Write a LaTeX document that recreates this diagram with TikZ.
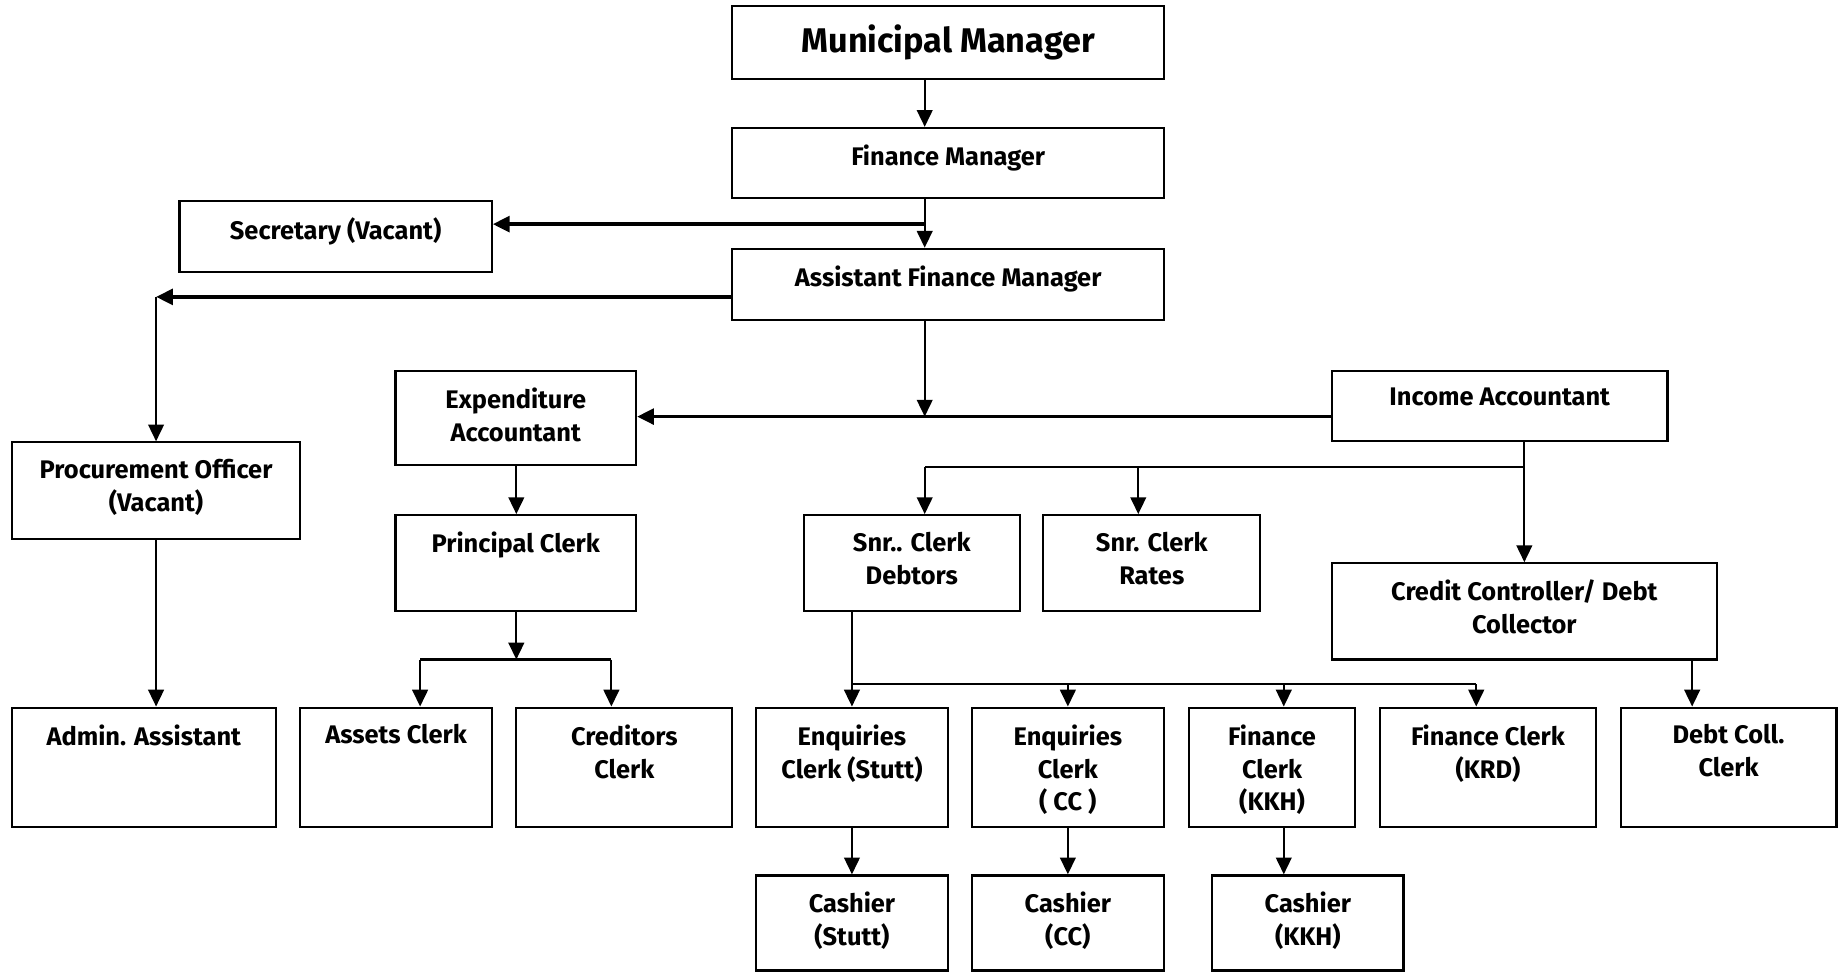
\documentclass[tikz,border=0pt]{standalone}
\usepackage{fontspec}
\setmainfont{Fira Sans}
\usetikzlibrary{arrows.meta,fit}

\newcommand\lbfont{\fontsize{13}{16.8}\selectfont\bfseries}
\newcommand\topfont{\fontsize{17.5}{20}\selectfont\bfseries}

% one position box: name, x1, y1, x2, y2, text (top aligned)
\newcommand\orgnode[6]{%
  \node[box, fit={(#2,#3)(#4,#5)}] (#1) {};
  \node[lbl] (#1-t) at ([yshift=-9pt]#1.north) {#6};
}

\tikzset{
  box/.style={draw, line width=1.1pt, inner sep=0pt},
  lbl/.style={font=\lbfont, align=center, inner sep=0pt, anchor=north},
  ln/.style={line width=1.1pt},
  thk/.style={line width=1.9pt},
  arr/.style={line width=1.1pt, -{Triangle[length=8.6pt,width=8pt]}},
}

\begin{document}
\begin{tikzpicture}[x=0.6pt,y=-0.6pt]
  \fill[white] (0,0) rectangle (1568,828);
  \useasboundingbox (0,0) rectangle (1568,828);

  % top of the hierarchy
  \node[box, fit={(624,5)(992,67)}] (mm) {};
  \node[font=\topfont, inner sep=0pt] (mm-t) at (mm.center) {Municipal Manager};
  \orgnode{fm}{624}{109}{992}{169}{Finance Manager}
  \orgnode{sec}{153}{171}{419}{232}{Secretary (Vacant)}
  \orgnode{afm}{624}{212}{992}{273}{Assistant Finance Manager}

  % accountants
  \orgnode{exp}{337}{316}{542}{396}{Expenditure\\Accountant}
  \orgnode{ia}{1135}{316}{1421}{376}{Income Accountant}
  \orgnode{proc}{10}{377}{256}{459}{Procurement Officer\\(Vacant)}

  % second level
  \orgnode{pc}{337}{439}{542}{521}{Principal Clerk}
  \orgnode{sd}{685}{439}{869}{521}{Snr.. Clerk\\Debtors}
  \orgnode{sr}{889}{439}{1074}{521}{Snr. Clerk\\Rates}
  \orgnode{cc}{1135}{480}{1463}{562}{Credit Controller/ Debt\\Collector}

  % clerks
  \orgnode{adm}{10}{603}{235}{705}{Admin. Assistant}
  \orgnode{ac}{256}{603}{419}{705}{Assets Clerk}
  \orgnode{crc}{440}{603}{624}{705}{Creditors\\Clerk}
  \orgnode{es}{644}{603}{808}{705}{Enquiries\\Clerk (Stutt)}
  \orgnode{ecc}{828}{603}{992}{705}{Enquiries\\Clerk\\( CC )}
  \orgnode{fk}{1013}{603}{1155}{705}{Finance\\Clerk\\(KKH)}
  \orgnode{fkrd}{1176}{603}{1360}{705}{Finance Clerk\\(KRD)}
  \orgnode{dcc}{1381}{603}{1565}{705}{Debt Coll.\\Clerk}

  % cashiers
  \orgnode{cs}{644}{746}{808}{827}{Cashier\\(Stutt)}
  \orgnode{ccc}{828}{746}{992}{827}{Cashier\\(CC)}
  \orgnode{ck}{1033}{746}{1196}{827}{Cashier\\(KKH)}

  % junction points
  \coordinate (jsec) at (788,191);
  \coordinate (jproc) at (133,253);
  \coordinate (jacc) at (788,355);
  \coordinate (jpc) at (440,562);
  \coordinate (jpcl) at (358,562);
  \coordinate (jpcr) at (521,562);
  \coordinate (jia) at (1299,398);
  \coordinate (jial) at (788,398);
  \coordinate (jiam) at (970,398);
  \coordinate (jsd) at (726,583);
  \coordinate (jsd2) at (910,583);
  \coordinate (jsd3) at (1094,583);
  \coordinate (jsd4) at (1258,583);

  % connectors
  \draw[arr] (788,0 |- mm.south) -- (788,0 |- fm.north);
  \draw[arr] (788,0 |- fm.south) -- (788,0 |- afm.north);
  \draw[arr,thk] (jsec) -- (sec.east |- jsec);
  \draw[arr,thk] (afm.west |- jproc) -- (jproc);
  \draw[arr] (jproc) -- (proc.north);
  \draw[arr] (788,0 |- afm.south) -- (jacc);
  \draw[arr,thk] (ia.west |- jacc) -- (exp.east |- jacc);

  \draw[arr] (440,0 |- exp.south) -- (440,0 |- pc.north);
  \draw[arr] (440,0 |- pc.south) -- (jpc);
  \draw[ln] (jpcl) -- (jpcr);
  \draw[arr] (jpcl) -- (jpcl |- ac.north);
  \draw[arr] (jpcr) -- (jpcr |- crc.north);

  \draw[arr] (133,0 |- proc.south) -- (133,0 |- adm.north);

  \draw[arr] (1299,0 |- ia.south) -- (1299,0 |- cc.north);
  \draw[ln] (jia) -- (jial);
  \draw[arr] (jial) -- (jial |- sd.north);
  \draw[arr] (jiam) -- (jiam |- sr.north);

  \draw[ln] (726,0 |- sd.south) -- (jsd);
  \draw[ln] (jsd) -- (jsd4);
  \draw[arr] (jsd) -- (jsd |- es.north);
  \draw[arr] (jsd2) -- (jsd2 |- ecc.north);
  \draw[arr] (jsd3) -- (jsd3 |- fk.north);
  \draw[arr] (jsd4) -- (jsd4 |- fkrd.north);

  \draw[arr] (1442,0 |- cc.south) -- (1442,0 |- dcc.north);

  \draw[arr] (726,0 |- es.south) -- (726,0 |- cs.north);
  \draw[arr] (910,0 |- ecc.south) -- (910,0 |- ccc.north);
  \draw[arr] (1094,0 |- fk.south) -- (1094,0 |- ck.north);
\end{tikzpicture}
\end{document}
